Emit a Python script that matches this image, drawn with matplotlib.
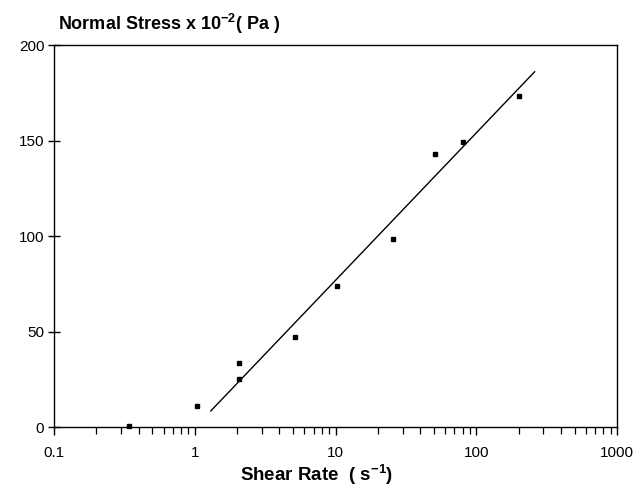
import matplotlib
matplotlib.use("Agg")
import matplotlib.pyplot as plt
from matplotlib.ticker import LogLocator, NullFormatter, FixedLocator

plt.rcParams['font.family'] = ['Liberation Sans', 'DejaVu Sans']
plt.rcParams['mathtext.fontset'] = 'custom'
plt.rcParams['mathtext.bf'] = 'Liberation Sans:bold'
plt.rcParams['mathtext.rm'] = 'Liberation Sans'
plt.rcParams['mathtext.default'] = 'bf'

# Data
shear_rate = [0.34, 1.03, 2.07, 2.07, 5.14, 10.3, 25.6, 50.6, 81.0, 201.0]
normal_stress = [0.5, 11.0, 33.5, 25.1, 47.1, 73.8, 98.4, 142.9, 149.2, 173.3]

fit_x = [1.30, 260.0]
fit_y = [8.4, 186.0]

x_ticks = [0.1, 1, 10, 100, 1000]
x_tick_labels = ['0.1', '1', '10', '100', '1000']
y_ticks = [0, 50, 100, 150, 200]

fig = plt.figure(figsize=(6.36, 4.86), dpi=100)
ax = fig.add_axes([54/636, 1-427/486, (617-54)/636, (427-45)/486])

ax.plot(fit_x, fit_y, color='black', lw=1.0)
ax.plot(shear_rate, normal_stress, linestyle='none', marker='s', ms=3.2,
        color='black', clip_on=False)

ax.set_xscale('log')
ax.set_xlim(0.1, 1000)
ax.set_ylim(0, 200)
ax.xaxis.set_major_locator(FixedLocator(x_ticks))
ax.set_xticklabels(x_tick_labels)
ax.xaxis.set_minor_locator(LogLocator(base=10, subs=range(2, 10)))
ax.xaxis.set_minor_formatter(NullFormatter())
ax.set_yticks(y_ticks)

ax.tick_params(axis='x', which='major', direction='out', length=6, width=1,
               labelsize=11, pad=8)
ax.tick_params(axis='x', which='minor', direction='out', length=5, width=0.9)
ax.tick_params(axis='y', which='major', direction='inout', length=8, width=1,
               labelsize=11, pad=3)
for s in ax.spines.values():
    s.set_linewidth(1.0)

fig.text(317/636, 1-481/486, r'Shear Rate  ( s$^{-1}$)', fontsize=13.5,
         fontweight='bold', ha='center', va='baseline')

fig.text(58/636, 1-30/486, r'Normal Stress x 10$^{-2}$( Pa )', fontsize=13,
         fontweight='bold', ha='left', va='baseline')

fig.savefig('out.png', dpi=100)
